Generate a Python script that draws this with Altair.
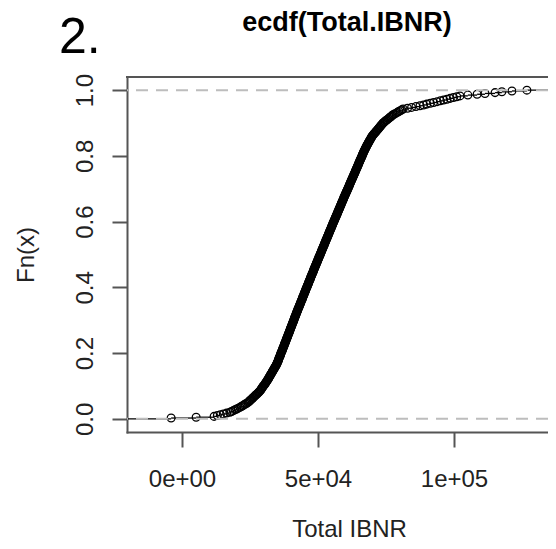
import altair as alt
import pandas as pd

# Total IBNR simulations (thousands), sorted
ibnr_low_tail_k = [-4.0, 5.2, 11.8]
ibnr_lower_k = [
    13.0, 14.1, 15.2, 16.4, 17.6,
    18.2, 18.9, 19.5, 20.1, 20.7, 21.3,
    21.8, 22.3, 22.8, 23.3, 23.8, 24.3,
    24.6, 24.9, 25.2, 25.6, 25.9, 26.2, 26.5, 26.8, 27.1, 27.5, 27.8, 28.1, 28.4, 28.7,
    28.9, 29.1, 29.3, 29.5, 29.7, 29.9, 30.2, 30.4, 30.6, 30.8, 31.0, 31.2, 31.4, 31.6,
    31.8, 31.9, 32.1, 32.3, 32.5, 32.6, 32.8, 33.0, 33.2, 33.3, 33.5, 33.7, 33.9, 34.0,
    34.2, 34.4, 34.6, 34.7, 34.9,
    35.0, 35.1, 35.3, 35.4, 35.5, 35.6, 35.7, 35.8, 36.0, 36.1, 36.2, 36.3, 36.4, 36.5,
    36.7, 36.8, 36.9, 37.0, 37.1, 37.3, 37.4, 37.5, 37.6, 37.7, 37.8, 38.0, 38.1, 38.2,
]
ibnr_middle_k = [
    38.3, 38.4, 38.5, 38.7, 38.8, 38.9, 39.0, 39.1, 39.2, 39.4, 39.5, 39.6, 39.7, 39.8,
    39.9, 40.0, 40.2, 40.3, 40.4, 40.5, 40.6, 40.7, 40.9, 41.0, 41.1, 41.2, 41.3, 41.4,
    41.5, 41.7, 41.8, 41.9, 42.0,
    42.1, 42.2, 42.4, 42.5, 42.6, 42.7, 42.8, 43.0, 43.1, 43.2, 43.3, 43.5, 43.6, 43.7,
    43.8, 43.9, 44.1, 44.2, 44.3, 44.4, 44.5, 44.7, 44.8, 44.9,
    45.0, 45.1, 45.3, 45.4, 45.5, 45.6, 45.7, 45.9, 46.0, 46.1, 46.2, 46.4, 46.5, 46.6,
    46.7, 46.8, 47.0, 47.1, 47.2, 47.3, 47.4, 47.6, 47.7, 47.8, 47.9, 48.1, 48.2, 48.3,
    48.4, 48.5, 48.7, 48.8, 48.9, 49.0, 49.2, 49.3, 49.4, 49.5, 49.7, 49.8, 49.9, 50.0,
    50.2, 50.3, 50.4, 50.5, 50.7, 50.8, 50.9, 51.0, 51.2, 51.3, 51.4,
    51.5, 51.7, 51.8, 51.9, 52.0, 52.2, 52.3, 52.4, 52.5, 52.7, 52.8, 52.9, 53.0, 53.2,
    53.3, 53.4, 53.5, 53.7, 53.8, 53.9, 54.0, 54.2, 54.3, 54.4, 54.5, 54.7, 54.8, 54.9,
    55.0, 55.2, 55.3, 55.4, 55.5, 55.7, 55.8,
    55.9, 56.1, 56.2, 56.3, 56.4, 56.6, 56.7, 56.8, 57.0, 57.1, 57.2, 57.3, 57.5, 57.6,
    57.7, 57.9, 58.0, 58.1, 58.2, 58.4, 58.5, 58.6, 58.7, 58.9, 59.0, 59.1, 59.3, 59.4,
    59.5, 59.6, 59.8, 59.9,
]
ibnr_upper_k = [
    60.0, 60.2, 60.3, 60.4, 60.6, 60.7, 60.8, 61.0, 61.1, 61.2, 61.4, 61.5, 61.6, 61.7,
    61.9, 62.0, 62.1, 62.3, 62.4, 62.5, 62.7, 62.8,
    62.9, 63.1, 63.2, 63.3, 63.5, 63.6, 63.7, 63.8, 64.0, 64.1, 64.2, 64.4, 64.5, 64.6,
    64.8, 64.9, 65.0, 65.1, 65.3, 65.4, 65.5, 65.7, 65.8, 65.9, 66.1, 66.2, 66.3, 66.4,
    66.6, 66.7, 66.8, 67.0, 67.1,
    67.3, 67.4, 67.6, 67.7, 67.9, 68.0, 68.2,
    68.4, 68.5, 68.7, 68.9, 69.0, 69.2, 69.4, 69.6, 69.7, 69.9,
    70.1, 70.4, 70.6, 70.9, 71.2, 71.4, 71.7, 71.9, 72.2, 72.4, 72.7, 72.9, 73.2, 73.4,
    73.7, 73.9,
    74.3, 74.6, 75.0, 75.4, 75.8, 76.1, 76.5, 76.9, 77.2, 77.6,
    78.1, 78.7, 79.2, 79.7, 80.2, 80.8, 81.3,
    82.9, 84.4, 86.0, 87.5,
    88.8, 90.0, 91.3, 92.5, 93.8,
    95.0, 96.2, 97.4, 98.6, 99.8, 101.0, 102.2,
]
ibnr_high_tail_k = [105.1, 108.5, 111.4, 115.1, 117.6, 121.3, 126.8]

x_ticks = [0, 50000, 100000]
x_tick_labels = ["0e+00", "5e+04", "1e+05"]
y_ticks = [0.0, 0.2, 0.4, 0.6, 0.8, 1.0]
ref_levels = [0, 1]
x_range = [-20220, 134560]
y_range = [-0.04, 1.04]
step_end = 160000

main_title = "ecdf(Total.IBNR)"
panel_label = "2."
x_title = "Total IBNR"
y_title = "Fn(x)"

all_k = ibnr_low_tail_k + ibnr_lower_k + ibnr_middle_k + ibnr_upper_k + ibnr_high_tail_k
df = pd.DataFrame({"ibnr": [v * 1000 for v in all_k]})
ref_df = pd.DataFrame({"level": ref_levels})
top_df = pd.DataFrame({"edge": [y_range[1]]})

FONT = "Liberation Sans"
AX = "#555555"
TXT = "#222222"

label_expr = " : ".join(
    f"datum.value == {v} ? '{l}'" for v, l in zip(x_ticks[:-1], x_tick_labels[:-1])
) + f" : '{x_tick_labels[-1]}'"

xscale = alt.Scale(domain=x_range, nice=False, zero=False)
yscale = alt.Scale(domain=y_range, nice=False, zero=False)

xaxis = alt.Axis(
    values=x_ticks, labelExpr=label_expr, title=x_title, grid=False,
    domain=True, domainColor=AX, domainWidth=2, domainCap="square",
    tickSize=15, tickWidth=2, tickColor=AX,
    labelFont=FONT, labelFontSize=24, labelColor=TXT, labelPadding=39,
    labelBaseline="alphabetic", labelFlush=False,
    titleFont=FONT, titleFontSize=24, titleFontWeight="normal", titleColor=TXT,
    titleX=222, titleY=104, titleBaseline="alphabetic", titleAlign="center",
)
yaxis = alt.Axis(
    values=y_ticks, format=".1f", title=y_title, grid=False,
    domain=True, domainColor=AX, domainWidth=2, domainCap="square",
    tickSize=15, tickWidth=2, tickColor=AX,
    labelFont=FONT, labelFontSize=24, labelColor=TXT, labelPadding=20,
    labelAngle=270, labelAlign="center", labelBaseline="alphabetic", labelFlush=False,
    titleFont=FONT, titleFontSize=24, titleFontWeight="normal", titleColor=TXT,
    titleAngle=270, titleAlign="center", titleBaseline="alphabetic",
    titleX=-94, titleY=177.5,
)

base = alt.Chart(df).transform_window(
    Fn="cume_dist()", nxt="lead(ibnr)", sort=[alt.SortField("ibnr", order="ascending")]
).transform_calculate(
    nxt2=f"datum.nxt == null ? {step_end} : datum.nxt"
)

steps = base.mark_rule(color="black", strokeWidth=1.3, clip=True).encode(
    x=alt.X("ibnr:Q", scale=xscale, axis=xaxis),
    x2="nxt2:Q",
    y=alt.Y("Fn:Q", scale=yscale, axis=yaxis),
)

left_seg = alt.Chart(df).transform_aggregate(mn="min(ibnr)").transform_calculate(
    zero="0"
).mark_rule(color="black", strokeWidth=1.3, clip=True).encode(
    x=alt.X("mn:Q", scale=xscale, axis=xaxis),
    x2=alt.value(0),
    y=alt.Y("zero:Q", scale=yscale, axis=yaxis),
)

points = base.mark_point(
    shape="circle", filled=False, size=60, strokeWidth=1.3, color="black", opacity=1
).encode(
    x=alt.X("ibnr:Q", scale=xscale, axis=xaxis),
    y=alt.Y("Fn:Q", scale=yscale, axis=yaxis),
)

ref_lines = alt.Chart(ref_df).mark_rule(
    color="#BDBDBD", strokeWidth=2, strokeDash=[12, 8]
).encode(y=alt.Y("level:Q", scale=yscale, axis=yaxis))

top_border = alt.Chart(top_df).mark_rule(
    color=AX, strokeWidth=2, strokeCap="square"
).encode(y=alt.Y("edge:Q", scale=yscale, axis=yaxis))

title_txt = alt.Chart(pd.DataFrame({"t": [main_title]})).mark_text(
    font=FONT, fontSize=27, fontWeight="bold", color="black",
    align="center", baseline="alphabetic"
).encode(text="t:N", x=alt.value(220), y=alt.value(-46.5))

panel_txt = alt.Chart(pd.DataFrame({"t": [panel_label]})).mark_text(
    font=FONT, fontSize=50, color="black", align="left", baseline="alphabetic"
).encode(text="t:N", x=alt.value(-68), y=alt.value(-24))

chart = alt.layer(
    steps, left_seg, points, ref_lines, top_border, title_txt, panel_txt
).properties(
    width=421, height=355,
    padding={"left": 119, "top": 69, "right": 0, "bottom": 109},
    autosize=alt.AutoSizeParams(type="none"),
).configure_view(stroke=None).configure(background="white")

chart.save("out.html", embed_options={"renderer": "svg", "actions": False})
